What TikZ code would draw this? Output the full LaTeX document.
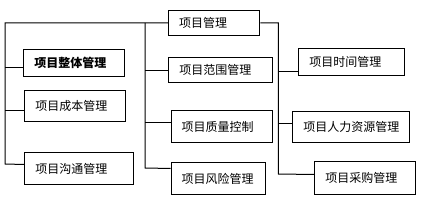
\documentclass[tikz,border=0pt]{standalone}
\usepackage{fontspec}
\newfontfamily\cjk{Noto Sans CJK SC}
\begin{document}
\begin{tikzpicture}[x=1pt,y=-1pt,
  box/.style={draw,line width=1pt,anchor=north west,inner xsep=10.5pt,inner ysep=0pt,
    align=left,font=\cjk\fontsize{12}{14}\selectfont},
  conn/.style={line width=1pt}]
\useasboundingbox (0,0) rectangle (421,206);
\node[box,minimum height=25.5pt,text width=70.3pt] (pm) at (168,9.5) {项目管理};
\node[box,minimum height=25.6pt,text width=82.4pt] (fw) at (168.3,56.7) {项目范围管理};
\node[box,minimum height=32pt,text width=80.6pt] (zl) at (170.7,110.3) {项目质量控制};
\node[box,minimum height=31.7pt,text width=73.3pt] (fx) at (170.7,162.3) {项目风险管理};
\node[box,minimum height=26.4pt,text width=80pt] (zt) at (23.3,49.3) {\bfseries 项目整体管理};
\node[box,minimum height=31pt,text width=80pt] (cb) at (24.3,90) {项目成本管理};
\node[box,minimum height=31.7pt,text width=88pt] (gt) at (24.3,152.3) {项目沟通管理};
\node[box,minimum height=27pt,text width=85pt] (sj) at (298.3,48.3) {项目时间管理};
\node[box,minimum height=31.6pt,text width=96pt] (rl) at (292.3,110.7) {项目人力资源管理};
\node[box,minimum height=32.4pt,text width=79.4pt] (cg) at (314.3,161.3) {项目采购管理};
\coordinate (Lb) at (5,164);
\coordinate (Mb) at (145,168);
\coordinate (Rb) at (278.3,174);
% left branch
\draw[conn] (pm.west) -| (Lb) -- ([yshift=4.15pt]gt.west);
\path ([yshift=-4.5pt]zt.west) coordinate (zta) ([yshift=-4.5pt]cb.west) coordinate (cba);
\draw[conn] (zta) -- (zta -| Lb);
\draw[conn] (cba) -- (cba -| Lb);
% middle branch
\draw[conn] (pm.west -| Mb) -- (Mb) -- ([yshift=10.15pt]fx.west);
\path ([yshift=4pt]zl.west) coordinate (zla);
\draw[conn] (fw.west) -- (fw.west -| Mb);
\draw[conn] (zla) -- (zla -| Mb);
% right branch
\draw[conn] (pm.east) -| (Rb) -- ([yshift=3.5pt]cg.west);
\path ([yshift=-9.2pt]sj.west) coordinate (sja) ([yshift=3.8pt]rl.west) coordinate (rla);
\draw[conn] (sja) -- (sja -| Rb);
\draw[conn] (rla) -- (rla -| Rb);
\end{tikzpicture}
\end{document}
